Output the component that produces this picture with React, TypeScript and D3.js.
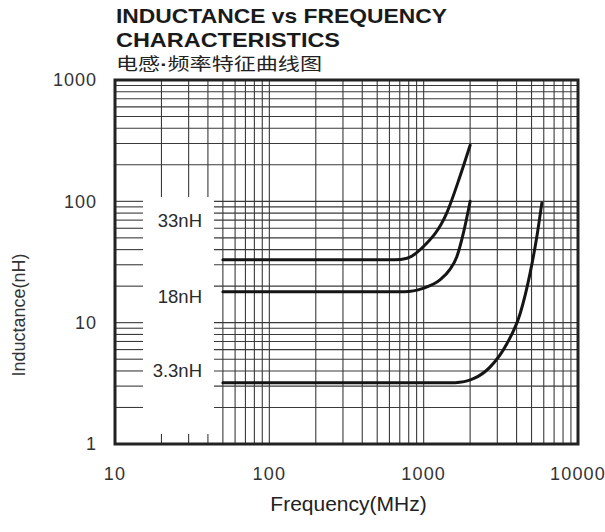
import React, { useEffect, useRef } from 'react';
import * as d3 from 'd3';

const width = 605;
const height = 532;

// axes
const xDomain = [10, 10000];
const yDomain = [1, 1000];
const xTickLabels = ['10', '100', '1000', '10000'];
const yTickLabels = ['1', '10', '100', '1000'];
const minorSteps = [1, 2, 3, 4, 5, 6, 7, 8, 9];

// curves (MHz, nH)
const seriesNames = ['33nH', '18nH', '3.3nH'];
const freq33 = [50, 650, 780, 990, 1410, 1720, 2000];
const ind33 = [33, 33, 34, 42, 80, 161, 290];
const freq18 = [50, 750, 990, 1275, 1480, 1640, 1810, 2000];
const ind18 = [18, 18, 19.2, 22.5, 27.5, 35, 55, 100];
const freq3 = [50, 1600, 2100, 2690, 3460, 4220, 4890, 5410, 5830];
const ind3 = [3.2, 3.2, 3.45, 4.3, 6.7, 11.9, 25.5, 51, 97];

export default function App() {
  const ref = useRef<SVGSVGElement>(null);

  useEffect(() => {
    const svg = d3.select(ref.current);
    svg.selectAll('*').remove();

    const margin = { top: 80, right: 27, bottom: 88, left: 115 };
    const x = d3.scaleLog().domain(xDomain).range([margin.left, width - margin.right]);
    const y = d3.scaleLog().domain(yDomain).range([height - margin.bottom, margin.top]);
    const [x0, x1] = x.range();
    const [y0, y1] = y.range(); // y0 bottom, y1 top

    // blank area for the series labels
    const gap = { left: 143, right: 214, top: 197, tick: 10 };

    const grid = svg.append('g').attr('stroke', '#3a3a3a').attr('stroke-width', 1.1);

    const xLines = [10, 100, 1000].flatMap(d => minorSteps.map(m => m * d)).filter(v => v > 10);
    xLines.forEach(v => {
      const px = x(v);
      if (v < 50) {
        grid.append('line').attr('x1', px).attr('x2', px).attr('y1', y1).attr('y2', gap.top);
        grid.append('line').attr('x1', px).attr('x2', px).attr('y1', y0 - gap.tick).attr('y2', y0);
      } else {
        grid.append('line').attr('x1', px).attr('x2', px).attr('y1', y1).attr('y2', y0);
      }
    });

    const yLines = [1, 10, 100].flatMap(d => minorSteps.map(m => m * d)).filter(v => v > 1);
    yLines.forEach(v => {
      const py = y(v);
      if (v <= 100) {
        grid.append('line').attr('x1', x0).attr('x2', gap.left).attr('y1', py).attr('y2', py);
        grid.append('line').attr('x1', gap.right).attr('x2', x1).attr('y1', py).attr('y2', py);
      } else {
        grid.append('line').attr('x1', x0).attr('x2', x1).attr('y1', py).attr('y2', py);
      }
    });

    // curves
    const line = d3
      .line<[number, number]>()
      .x(d => x(d[0]))
      .y(d => y(d[1]))
      .curve(d3.curveMonotoneX);

    const series = [
      d3.zip(freq33, ind33),
      d3.zip(freq18, ind18),
      d3.zip(freq3, ind3)
    ] as [number, number][][];

    svg
      .append('g')
      .selectAll('path')
      .data(series)
      .enter()
      .append('path')
      .attr('d', d => line(d))
      .attr('fill', 'none')
      .attr('stroke', '#151515')
      .attr('stroke-width', 3)
      .attr('stroke-linecap', 'round');

    // frame
    svg
      .append('rect')
      .attr('x', x0)
      .attr('y', y1)
      .attr('width', x1 - x0)
      .attr('height', y0 - y1)
      .attr('fill', 'none')
      .attr('stroke', '#222')
      .attr('stroke-width', 3);

    const font = "'Liberation Sans', Arial, Helvetica, sans-serif";

    // series labels
    const labelBase = [227, 303, 377];
    svg
      .append('g')
      .selectAll('text')
      .data(seriesNames)
      .enter()
      .append('text')
      .attr('x', 202)
      .attr('y', (d, i) => labelBase[i])
      .attr('text-anchor', 'end')
      .style('font-family', font)
      .style('font-size', '18.5px')
      .attr('fill', '#2a2a2a')
      .text(d => d);

    // tick labels
    svg
      .append('g')
      .selectAll('text')
      .data(xTickLabels)
      .enter()
      .append('text')
      .attr('x', d => x(+d))
      .attr('y', 480)
      .attr('text-anchor', 'middle')
      .style('font-family', font)
      .style('font-size', '18px')
      .style('letter-spacing', '1.2px')
      .attr('fill', '#333')
      .text(d => d);

    svg
      .append('g')
      .selectAll('text')
      .data(yTickLabels)
      .enter()
      .append('text')
      .attr('x', 97)
      .attr('y', d => y(+d))
      .attr('dy', '0.36em')
      .attr('text-anchor', 'end')
      .style('font-family', font)
      .style('font-size', '18px')
      .style('letter-spacing', '1px')
      .attr('fill', '#333')
      .text(d => d);

    // axis titles
    svg
      .append('text')
      .attr('x', (x0 + x1) / 2 + 2)
      .attr('y', 511)
      .attr('text-anchor', 'middle')
      .style('font-family', font)
      .style('font-size', '21px')
      .attr('fill', '#222')
      .text('Frequency(MHz)');

    svg
      .append('text')
      .attr('transform', 'translate(25, 315) rotate(-90)')
      .attr('text-anchor', 'middle')
      .style('font-family', font)
      .style('font-size', '18px')
      .attr('fill', '#333')
      .text('Inductance(nH)');

    // chart titles
    svg
      .append('text')
      .attr('x', 116)
      .attr('y', 22.7)
      .attr('textLength', 331)
      .attr('lengthAdjust', 'spacingAndGlyphs')
      .style('font-family', font)
      .style('font-size', '21px')
      .style('font-weight', 'bold')
      .attr('fill', '#1a1a1a')
      .text('INDUCTANCE vs FREQUENCY');

    svg
      .append('text')
      .attr('x', 116)
      .attr('y', 46.7)
      .attr('textLength', 224)
      .attr('lengthAdjust', 'spacingAndGlyphs')
      .style('font-family', font)
      .style('font-size', '21px')
      .style('font-weight', 'bold')
      .attr('fill', '#1a1a1a')
      .text('CHARACTERISTICS');

    const cn = svg
      .append('text')
      .attr('x', 116)
      .attr('y', 70)
      .attr('textLength', 206)
      .attr('lengthAdjust', 'spacingAndGlyphs')
      .style('font-family', "'Noto Sans CJK SC', sans-serif")
      .style('font-size', '16.5px')
      .attr('fill', '#222');
    cn.append('tspan').text('电感');
    cn.append('tspan').style('font-family', font).style('font-weight', 'bold').text('·');
    cn.append('tspan').text('频率特征曲线图');
  }, []);

  return (
    <svg
      ref={ref}
      width={width}
      height={height}
      style={{ position: 'absolute', left: 0, top: 0, background: '#fff' }}
    />
  );
}
